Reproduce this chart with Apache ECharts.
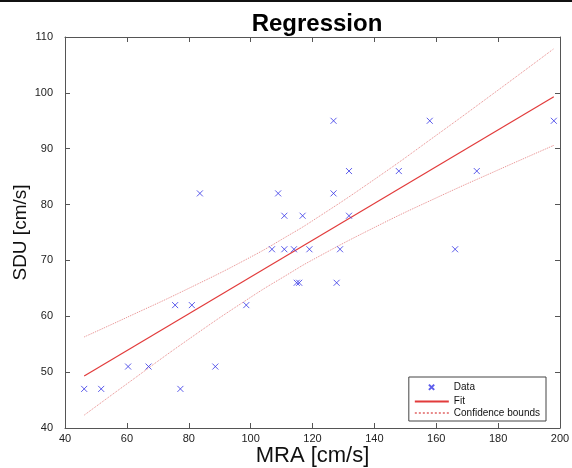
<!DOCTYPE html>
<html>
<head>
<meta charset="utf-8">
<script src="https://cdn.jsdelivr.net/npm/echarts@6/dist/echarts.min.js"></script>
<style>
  html,body{margin:0;padding:0;background:#fff;}
  .myEcharts{
    width: 572px;
    height: 468px;
  }
</style>
</head>
<body>
<div id="myChart" class="myEcharts"></div>
<script>
// MRA / SDU measurements (cm/s)
var mraValues = [46.2, 51.7, 77.3, 60.4, 67.0, 88.6, 75.6, 81.0, 98.6,
  114.9, 115.7, 127.8, 106.9, 110.9, 114.0, 119.0, 128.9, 166.1,
  110.9, 116.8, 131.8, 83.6, 108.9, 126.8, 131.8, 147.9, 173.1,
  126.8, 157.9, 198.0];
var sduValues = [47, 47, 47, 51, 51, 51, 62, 62, 62,
  66, 66, 66, 72, 72, 72, 72, 72, 72,
  78, 78, 78, 82, 82, 82, 86, 86, 86,
  95, 95, 95];

// fit line end points
var fitX = [46.2, 198];
var fitY = [49.3, 99.3];

// confidence bounds
var boundX = [46.2, 60, 80, 100, 112, 120, 140, 160, 180, 198];
var upperY = [56.3, 59.8, 65.0, 70.6, 74.4, 77.1, 84.5, 92.4, 100.5, 107.9];
var lowerY = [42.3, 47.9, 55.9, 63.4, 67.5, 70.1, 75.9, 81.2, 86.2, 90.6];

var xTicks = {min: 40, max: 200, interval: 20};
var yTicks = {min: 40, max: 110, interval: 10};

function zip(a, b){
  var out = [];
  for(var i = 0; i < a.length; i++){
    out.push([a[i], b[i]]);
  }
  return out;
}

var fontName = 'Liberation Sans, Arial, Helvetica, sans-serif';
var axisGray = '#555';
var hidden = 'rgba(0,0,0,0)';

// box axis (top / right copies have no labels)
function boxAxis(type, ticks, pos, showLabel, name){
  return {
    type: 'value',
    position: pos,
    min: ticks.min,
    max: ticks.max,
    interval: ticks.interval,
    name: name || '',
    nameLocation: 'middle',
    nameMoveOverlap: false,
    nameGap: type == 'x' ? 17 : 35,
    nameTextStyle: {fontFamily: fontName, fontSize: type == 'x' ? 22 : 19, color: '#111'},
    axisLine: {show: true, lineStyle: {color: axisGray, width: 1}},
    axisTick: {show: true, inside: true, length: 5, lineStyle: {color: axisGray}},
    axisLabel: {
      show: showLabel,
      fontFamily: fontName,
      fontSize: 11,
      color: '#222',
      margin: type == 'x' ? 5 : 12,
      showMinLabel: true,
      showMaxLabel: true
    },
    splitLine: {show: false}
  };
}

var myChart = echarts.init(document.getElementById('myChart'), null, {renderer: 'canvas'});
myChart.setOption({
  animation: false,
  backgroundColor: '#fff',
  title: {
    text: 'Regression',
    left: 312,
    textAlign: 'center',
    top: 7,
    textStyle: {fontFamily: fontName, fontSize: 24, fontWeight: 'bold', color: '#000'}
  },
  graphic: [{
    type: 'rect',
    shape: {x: 0, y: 0, width: 572, height: 2},
    style: {fill: '#111'}
  }],
  grid: {left: 65, right: 12, top: 37, bottom: 40, containLabel: false, outerBoundsMode: 'none'},
  legend: {
    orient: 'vertical',
    right: 26,
    bottom: 47,
    align: 'left',
    backgroundColor: '#fff',
    borderColor: '#444',
    borderWidth: 1,
    borderRadius: 0,
    padding: [3, 6, 3, 5],
    itemWidth: 34,
    itemHeight: 10,
    itemGap: 1.5,
    textStyle: {fontFamily: fontName, fontSize: 10, color: '#111'},
    data: [
      // extra move points keep the small x centred and small
      {name: 'Data', icon: 'path://M-4,-4M15,15M0,0L10,10M10,0L0,10'},
      'Fit',
      'Confidence bounds'
    ]
  },
  xAxis: [
    boxAxis('x', xTicks, 'bottom', true, 'MRA [cm/s]'),
    boxAxis('x', xTicks, 'top', false)
  ],
  yAxis: [
    boxAxis('y', yTicks, 'left', true, 'SDU [cm/s]'),
    boxAxis('y', yTicks, 'right', false)
  ],
  series: [
    {
      name: 'Data',
      type: 'scatter',
      symbol: 'path://M0,0L10,10M10,0L0,10',
      symbolSize: 6,
      itemStyle: {color: 'none', borderColor: '#3434e6', borderWidth: 1},
      data: zip(mraValues, sduValues),
      z: 5
    },
    {
      name: 'Fit',
      type: 'line',
      symbol: 'none',
      lineStyle: {color: '#e23b3b', width: 1.2},
      itemStyle: {color: hidden, borderColor: hidden},
      data: zip(fitX, fitY)
    },
    {
      name: 'Confidence bounds',
      type: 'line',
      smooth: true,
      symbol: 'none',
      lineStyle: {color: '#e88a8a', width: 1, type: 'dotted'},
      itemStyle: {color: hidden, borderColor: hidden},
      data: zip(boundX, upperY)
    },
    {
      name: 'Confidence bounds',
      type: 'line',
      smooth: true,
      symbol: 'none',
      lineStyle: {color: '#e88a8a', width: 1, type: 'dotted'},
      itemStyle: {color: hidden, borderColor: hidden},
      data: zip(boundX, lowerY)
    }
  ]
});
</script>
</body>
</html>
